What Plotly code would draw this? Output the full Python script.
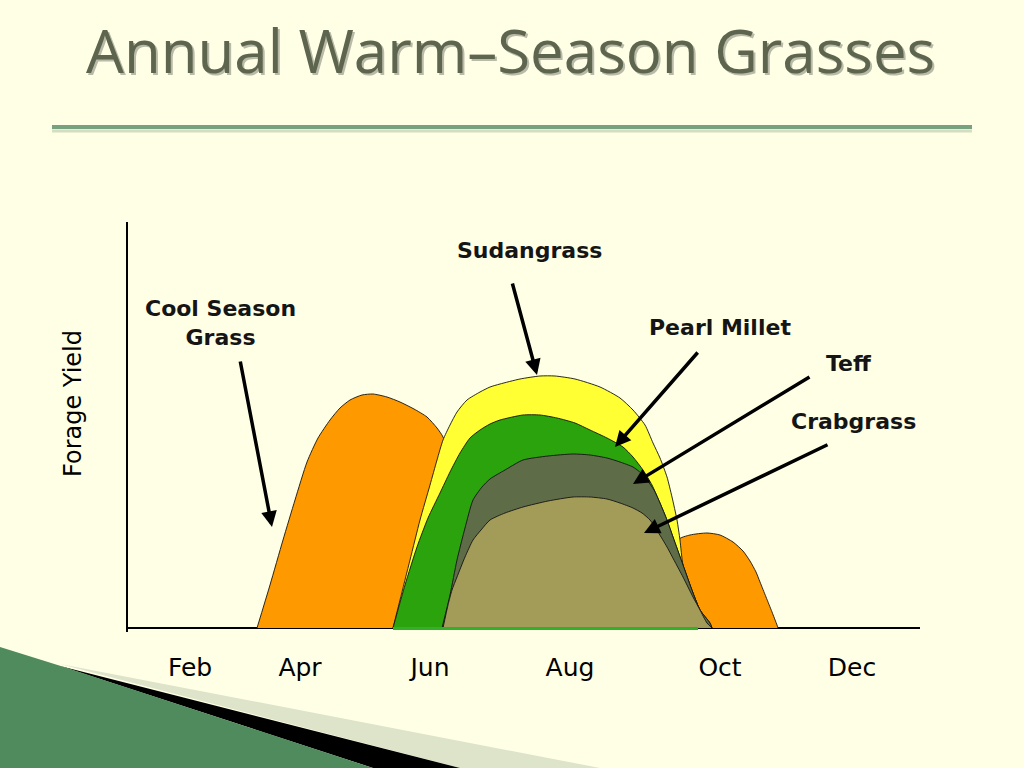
import plotly.graph_objects as go

# ---------------- data (x: season position units, y: relative forage yield) ----------------
month_ticks = [190, 300, 430, 570, 720, 852]
month_labels = ["Feb", "Apr", "Jun", "Aug", "Oct", "Dec"]

cool_spring_x = [257, 270, 283, 295, 307, 318, 330, 340, 350, 362, 373, 387, 400, 414, 427, 437, 443, 452, 462, 470]
cool_spring_y = [0, 43, 88, 128, 166, 190, 208, 220, 228, 233, 234, 231, 226, 219, 211, 200, 191, 158, 88, 0]

cool_fall_x = [676, 678, 690, 707, 720, 733, 743, 750, 756, 760, 766, 772, 777, 778]
cool_fall_y = [0, 88, 93, 95, 93, 86, 77, 67, 56, 46, 31, 16, 3, 0]

sudan_x = [393, 400, 410, 420, 430, 437, 443, 450, 457, 467, 480, 490, 500, 520, 540, 555, 575, 600,
           620, 633, 645, 653, 660, 667, 672, 677, 680, 683, 693, 700, 710, 712]
sudan_y = [0, 28, 68, 108, 143, 168, 188, 203, 216, 228, 236, 241, 244, 249, 252, 252, 249, 241,
           230, 218, 203, 185, 170, 151, 131, 108, 88, 63, 35, 18, 5, 0]

millet_x = [393, 405, 417, 428, 440, 450, 460, 470, 480, 490, 500, 523, 540, 557, 575, 590, 607, 623,
            633, 643, 652, 660, 667, 673, 683, 693, 700, 707, 712]
millet_y = [0, 43, 81, 110, 135, 156, 175, 190, 198, 204, 208, 213, 213, 210, 205, 198, 190, 181,
            171, 158, 143, 125, 108, 91, 63, 35, 18, 8, 0]

teff_x = [442, 450, 457, 465, 473, 482, 490, 505, 523, 548, 573, 590, 607, 620, 633, 641, 647, 654,
          660, 667, 673, 683, 693, 700, 710, 712]
teff_y = [0, 33, 68, 100, 128, 141, 149, 158, 168, 172, 174, 173, 170, 166, 161, 155, 148, 138,
          125, 108, 91, 63, 35, 18, 5, 0]

crab_x = [443, 448, 452, 457, 465, 473, 481, 490, 505, 523, 548, 573, 590, 607, 620, 633, 642, 650,
          658, 667, 675, 683, 693, 700, 707, 712]
crab_y = [0, 23, 38, 51, 71, 88, 98, 108, 115, 121, 127, 131, 131, 129, 125, 120, 115, 108,
          96, 81, 66, 51, 31, 18, 5, 0]

warm_span_x = [393, 698]
warm_span_y = [-0.5, -0.5]

# label name, label position (x, y), arrow tail (x, y), arrow tip (x, y)
labels = ["Sudangrass", "Cool Season<br>Grass", "Pearl Millet", "Teff", "Crabgrass"]
label_x = [529, 220, 720, 849, 853]
label_y = [378, 305, 301, 265, 207]
tail_x = [512, 240, 699, 811, 829]
tail_y = [346, 268, 277, 252, 184]
tip_x = [537, 272, 615, 633, 644]
tip_y = [253, 101, 181, 144, 95]

# ---------------- figure ----------------
W, H = 1024, 768
BG = "#FFFFE5"
fig = go.Figure()

series = [
    ("Cool Season Grass", cool_spring_x, cool_spring_y, "#FF9900"),
    ("Cool Season Grass (fall)", cool_fall_x, cool_fall_y, "#FF9900"),
    ("Sudangrass", sudan_x, sudan_y, "#FFFF33"),
    ("Pearl Millet", millet_x, millet_y, "#2AA30D"),
    ("Teff", teff_x, teff_y, "#5F6C48"),
    ("Crabgrass", crab_x, crab_y, "#A39B58"),
]
for name, xs, ys, col in series:
    fig.add_trace(go.Scatter(
        x=xs, y=ys, mode="lines", name=name, fill="tozeroy", fillcolor=col,
        line=dict(color="rgba(20,20,20,0.9)", width=1, shape="spline", smoothing=0.6),
        hoverinfo="skip", showlegend=False))

fig.add_trace(go.Scatter(x=warm_span_x, y=warm_span_y, mode="lines",
                         line=dict(color="#33B02A", width=3), hoverinfo="skip", showlegend=False))

ann = []
for t, lx, ly in zip(labels, label_x, label_y):
    ann.append(dict(x=lx, y=ly, xref="x", yref="y", text=t, showarrow=False,
                    font=dict(family="DejaVu Sans", size=22, color="#151515", weight="bold"),
                    xanchor="center", yanchor="middle"))
for txx, tyy, hx, hy in zip(tail_x, tail_y, tip_x, tip_y):
    ann.append(dict(x=hx, y=hy, xref="x", yref="y", ax=txx, ay=tyy, axref="x", ayref="y",
                    text="", showarrow=True, arrowhead=2, arrowsize=0.9, arrowwidth=3.5,
                    arrowcolor="black"))

# axis title
ann.append(dict(x=73 / W, y=1 - 404 / H, xref="paper", yref="paper", text="Forage Yield",
                textangle=-90, showarrow=False,
                font=dict(family="DejaVu Sans", size=24, color="black"),
                xanchor="center", yanchor="middle"))
# slide title (shadow + text)
for dx, dy, col in [(2, 2, "#B9BBA8"), (0, 0, "#5E654E")]:
    ann.append(dict(x=(510 + dx) / W, y=1 - (50 + dy) / H, xref="paper", yref="paper",
                    text="Annual Warm\u2013Season Grasses", showarrow=False,
                    font=dict(family="Open Sans", size=60, color=col),
                    xanchor="center", yanchor="middle"))

def px(x, y):
    return f"{x / W:.5f},{1 - y / H:.5f}"

shapes = [
    # title rule
    dict(type="line", xref="paper", yref="paper", x0=52 / W, x1=972 / W, y0=1 - 131 / H, y1=1 - 131 / H,
         line=dict(color="#D3DDC2", width=3), layer="below"),
    dict(type="line", xref="paper", yref="paper", x0=52 / W, x1=972 / W, y0=1 - 127 / H, y1=1 - 127 / H,
         line=dict(color="#78A27F", width=4), layer="below"),
    # bottom-left decoration
    dict(type="path", xref="paper", yref="paper",
         path=f"M {px(60, 664)} L {px(600, 768)} L {px(460, 768)} Z",
         fillcolor="#DDE4CA", line=dict(width=0), layer="below"),
    dict(type="path", xref="paper", yref="paper",
         path=f"M {px(60, 666)} L {px(460, 768)} L {px(373, 768)} Z",
         fillcolor="#000000", line=dict(width=0), layer="below"),
    dict(type="path", xref="paper", yref="paper",
         path=f"M {px(0, 647)} L {px(64, 667)} L {px(373, 768)} L {px(0, 768)} Z",
         fillcolor="#4F8B5C", line=dict(width=0), layer="below"),
]

fig.update_layout(
    width=W, height=H, autosize=False,
    margin=dict(l=0, r=0, t=0, b=0),
    paper_bgcolor=BG, plot_bgcolor=BG,
    showlegend=False,
    xaxis=dict(domain=[128 / W, 920 / W], range=[128, 920], showgrid=False, zeroline=False,
               showline=False, tickvals=month_ticks, ticktext=month_labels, ticks="",
               tickfont=dict(family="DejaVu Sans", size=25, color="black"),
               ticklabelstandoff=18, fixedrange=True),
    yaxis=dict(domain=[1 - 632 / H, 1 - 222 / H], range=[-4, 406], showgrid=False,
               zeroline=True, zerolinecolor="black", zerolinewidth=2,
               showline=True, linecolor="black", linewidth=2, showticklabels=False, ticks="",
               fixedrange=True),
    annotations=ann,
    shapes=shapes,
)

fig.write_html(
    "out.html",
    config={"displayModeBar": False},
    post_script="document.body.style.margin='0';document.body.style.overflow='hidden';"
                "document.body.style.background='#FFFFE5';",
)
